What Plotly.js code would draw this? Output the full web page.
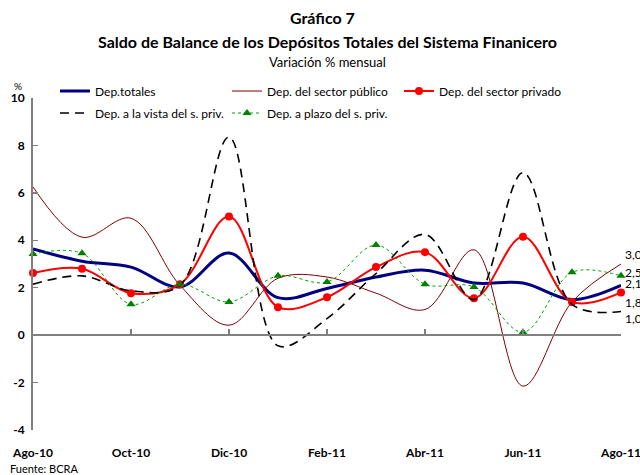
<!DOCTYPE html>
<html>
<head>
<meta charset="utf-8">
<script src="https://cdn.plot.ly/plotly-3.0.1.min.js"></script>
<style>html,body{margin:0;padding:0;background:#fff;}#chart{width:640px;height:475px;}</style>
</head>
<body>
<div id="chart"></div>
<script>
const months = ['Ago-10','Sep-10','Oct-10','Nov-10','Dic-10','Ene-11','Feb-11','Mar-11','Abr-11','May-11','Jun-11','Jul-11','Ago-11'];
const tickLabels = ['Ago-10','Oct-10','Dic-10','Feb-11','Abr-11','Jun-11','Ago-11'];
const totales = [3.63, 3.12, 2.87, 2.03, 3.46, 1.58, 1.97, 2.45, 2.74, 2.2, 2.2, 1.5, 2.1];
const publico = [6.25, 4.13, 4.93, 2.1, 0.42, 2.4, 2.45, 1.77, 1.08, 3.6, -2.15, 1.4, 3.0];
const privado = [2.62, 2.8, 1.77, 2.15, 5.0, 1.18, 1.6, 2.87, 3.5, 1.56, 4.15, 1.4, 1.8];
const vista = [2.15, 2.5, 1.87, 2.1, 8.35, -0.45, 0.7, 2.6, 4.25, 1.5, 6.85, 1.3, 1.0];
const plazo = [3.42, 3.45, 1.3, 2.15, 1.4, 2.5, 2.24, 3.8, 2.15, 2.03, 0.12, 2.65, 2.5];
const yTicks = [-4, -2, 0, 2, 4, 6, 8, 10];

const FONT = 'Lato, "Open Sans", sans-serif';
const yMin = -4, yMax = 10;
const W = 640, H = 475, ML = 33, MR = 19, MT = 98, MB = 45;
const PW = W - ML - MR, PH = H - MT - MB;
const px = xp => (xp - ML) / PW;          // pixel -> paper x
const py = yp => (H - MB - yp) / PH;      // pixel -> paper y

const traces = [
  {name:'Dep.totales', x:months, y:totales, mode:'lines', line:{color:'#000080', width:3, shape:'spline'}, legend:'legend'},
  {name:'Dep. del sector público', x:months, y:publico, mode:'lines', line:{color:'#800000', width:1, shape:'spline'}, legend:'legend'},
  {name:'Dep. del sector privado', x:months, y:privado, mode:'lines+markers', line:{color:'#ff0000', width:2, shape:'spline'}, marker:{color:'#ff0000', size:8, symbol:'circle'}, legend:'legend'},
  {name:'Dep. a la vista del s. priv.', x:months, y:vista, mode:'lines', line:{color:'#000000', width:1.6, dash:'9px,6px', shape:'spline'}, legend:'legend2'},
  {name:'Dep. a plazo del s. priv.', x:months, y:plazo, mode:'lines+markers', line:{color:'#00a000', width:1, dash:'dot', shape:'spline'}, marker:{color:'#008000', size:8, symbol:'triangle-up'}, legend:'legend2'}
].map(t => Object.assign(t, {cliponaxis:false, hoverinfo:'skip'}));

// hidden helper for the axis drawn at y=0
traces.push({x:months, y:totales, xaxis:'x2', mode:'none', showlegend:false, hoverinfo:'skip'});

const lastLabels = [
  {v: publico[12], dy: 10},
  {v: plazo[12], dy: 3},
  {v: totales[12], dy: 2},
  {v: privado[12], dy: -10},
  {v: vista[12], dy: -7}
];

const txt = (text, xp, yp, size, extra) => Object.assign({text:text, xref:'paper', yref:'paper', x:px(xp), y:py(yp),
  xanchor:'center', yanchor:'middle', showarrow:false, font:{size:size, family:FONT, color:'#000'}}, extra || {});

const annotations = [
  txt('<b>Gráfico 7</b>', 322, 17, 16),
  txt('<b>Saldo de Balance de los Depósitos Totales del Sistema Finanicero</b>', 328, 41, 16),
  txt('Variación % mensual', 327, 62, 13),
  txt('%', 18, 86, 10),
  txt('Fuente: BCRA', 8, 469, 11, {xanchor:'left'})
].concat(lastLabels.map(l => ({
  text: l.v.toFixed(1).replace('.', ','), x: months[12], y: l.v, xref:'x', yref:'y',
  xanchor:'left', yanchor:'middle', xshift:2, yshift:l.dy, showarrow:false, font:{size:12, family:FONT, color:'#000'}
})));

const legendCommon = {orientation:'h', xref:'container', yref:'container', xanchor:'left', yanchor:'middle',
  entrywidth:127, entrywidthmode:'pixels', bgcolor:'rgba(0,0,0,0)', borderwidth:0, itemwidth:30,
  font:{size:12, family:FONT, color:'#000'}, tracegroupgap:0};

const layout = {
  width:W, height:H,
  margin:{l:ML, r:MR, t:MT, b:MB, autoexpand:false},
  paper_bgcolor:'#fff', plot_bgcolor:'#fff',
  font:{family:FONT, color:'#000'},
  showlegend:true,
  legend: Object.assign({}, legendCommon, {x:55/W, y:1-91/H}),
  legend2: Object.assign({}, legendCommon, {x:55/W, y:1-113/H}),
  xaxis:{type:'category', range:[0, 12], tickmode:'array', tickvals:tickLabels, ticktext:tickLabels,
    showline:false, showgrid:false, zeroline:false, ticks:'', ticklabelstandoff:14,
    tickfont:{size:12, family:FONT, color:'#000', weight:'bold'}},
  xaxis2:{type:'category', overlaying:'x', anchor:'free', position:(0 - yMin)/(yMax - yMin), matches:'x',
    range:[0, 12], tickmode:'array', tickvals:tickLabels, showticklabels:false,
    showline:true, linecolor:'#808080', linewidth:2, ticks:'inside', ticklen:5, tickwidth:1.5, tickcolor:'#808080',
    showgrid:false, zeroline:false},
  yaxis:{range:[yMin, yMax], tickmode:'array', tickvals:yTicks, ticktext:yTicks.map(String),
    showline:true, linecolor:'#808080', linewidth:2, ticks:'inside', ticklen:5, tickwidth:1.5, tickcolor:'#808080',
    showgrid:false, zeroline:false, ticklabelstandoff:4,
    tickfont:{size:12, family:FONT, color:'#000', weight:'bold'}},
  annotations: annotations
};

Plotly.newPlot('chart', traces, layout, {staticPlot:true, displayModeBar:false});
</script>
</body>
</html>
